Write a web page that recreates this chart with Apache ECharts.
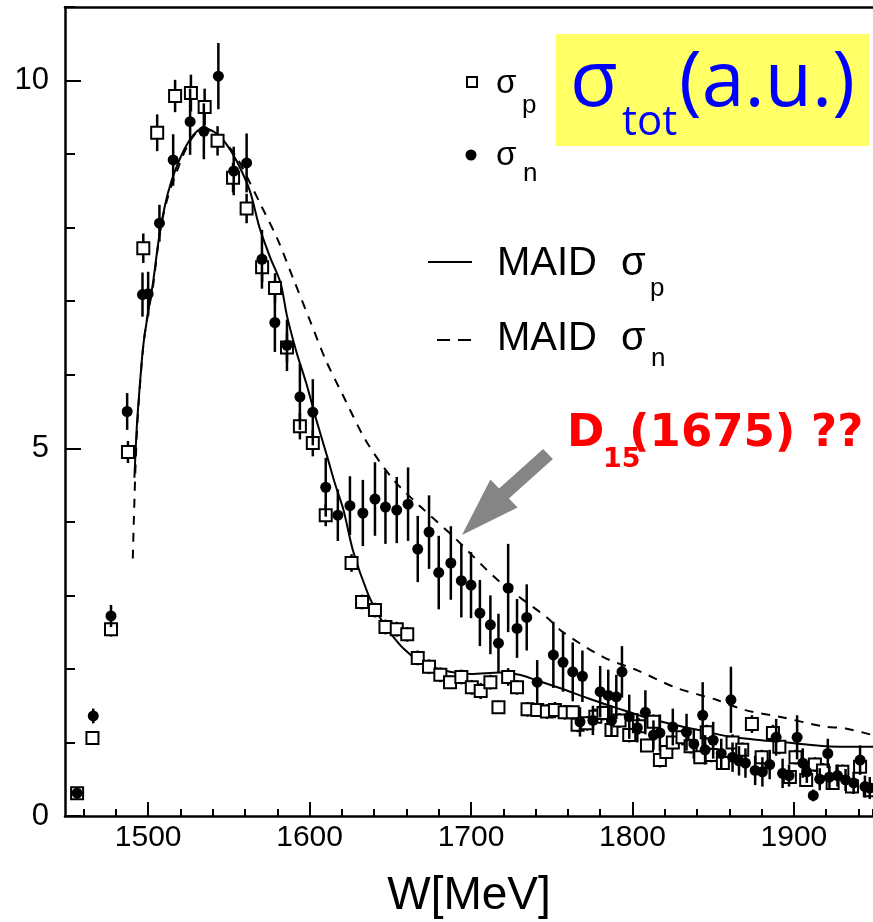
<!DOCTYPE html>
<html>
<head>
<meta charset="utf-8">
<script src="https://cdn.jsdelivr.net/npm/echarts@6/dist/echarts.min.js"></script>
<style>
html,body{margin:0;padding:0;background:#fff;}
#c{width:873px;height:922px;}
</style>
</head>
<body>
<div id="c"></div>
<script>
// ---- data ----
// sigma_p (open squares)
const pX = [1456,1465.5,1477,1487.5,1497,1505.6,1516.7,1526.5,1535,1543,1552.6,1561,1570.6,1578.6,1586,1594,1602,1610,1626,1632.5,1640.5,1647,1654,1660.5,1667,1674,1681,1687,1694,1700.5,1706,1712,1717,1723,1728.5,1735,1741,1747,1752,1758,1763,1766,1772,1777,1782,1787,1792,1798,1804,1809,1813,1817,1821,1825,1831,1836,1842,1846,1849,1856,1862,1868,1874,1880,1887,1891,1897.5,1901,1907.6,1913,1918,1924,1930,1936,1941,1947];
const pY = [0.31,1.06,2.54,4.95,7.72,9.29,9.79,9.83,9.64,9.18,8.68,8.26,7.46,7.18,6.37,5.30,5.07,4.09,3.44,2.91,2.80,2.57,2.54,2.47,2.15,2.03,1.92,1.82,1.89,1.75,1.70,1.82,1.48,1.89,1.75,1.45,1.44,1.42,1.44,1.41,1.41,1.24,1.26,1.35,1.40,1.17,1.30,1.10,1.22,0.96,1.28,0.76,0.87,1.00,1.07,0.95,0.80,1.14,0.83,0.72,1.00,0.90,1.25,0.80,1.13,0.94,0.53,0.80,0.49,0.70,0.62,0.45,0.60,0.40,0.67,0.35];
const pErr = [0.04,0.06,0.10,0.15,0.20,0.25,0.22,0.25,0.25,0.20,0.20,0.20,0.20,0.20,0.20,0.18,0.18,0.15,0.12,0.10,0.10,0.10,0.10,0.10,0.10,0.10,0.10,0.09,0.10,0.10,0.11,0.10,0.09,0.12,0.10,0.10,0.09,0.10,0.11,0.10,0.09,0.10,0.10,0.11,0.10,0.09,0.10,0.10,0.11,0.09,0.10,0.10,0.09,0.10,0.11,0.10,0.09,0.10,0.10,0.09,0.11,0.10,0.12,0.10,0.11,0.10,0.09,0.10,0.09,0.10,0.10,0.09,0.10,0.09,0.10,0.09];
// sigma_n (filled points)
const nX = [1456,1466,1477,1487,1496.5,1500,1507,1515.5,1526,1534.5,1543.5,1553,1561,1570.5,1578.5,1586,1594,1602,1610,1617.5,1625,1633,1640.5,1647,1654,1661,1667,1674,1680,1687.5,1694,1700,1705.5,1712,1717,1723,1728.5,1734.5,1741,1751,1757,1763,1767.5,1769,1775.5,1780,1785,1787,1790,1793.5,1798,1803,1808,1813,1817,1825,1833.5,1838,1843.5,1845,1850,1855,1861,1862,1866,1870,1876,1880.5,1885,1889,1893,1897,1902,1905.5,1908,1912,1916,1921,1922,1927,1932,1937,1941,1944,1947];
const nY = [0.31,1.36,2.72,5.50,7.09,7.10,8.06,8.92,9.44,9.31,10.06,8.77,8.88,7.57,6.71,6.40,5.70,5.49,4.47,4.09,4.22,4.12,4.31,4.20,4.16,4.24,3.63,3.86,3.31,3.44,3.20,3.14,2.76,2.60,2.35,3.10,2.55,2.70,1.82,2.19,2.09,1.96,1.28,1.90,1.30,1.69,1.64,1.30,1.62,1.96,1.35,1.20,1.41,1.10,1.13,1.21,1.14,0.98,1.37,0.90,1.03,0.85,1.58,0.80,0.75,0.72,0.62,0.60,0.70,1.07,0.58,0.55,1.07,0.72,0.60,0.28,0.50,0.85,0.53,0.55,0.49,0.45,0.76,0.40,0.38];
const nErr = [0.05,0.10,0.15,0.25,0.30,0.30,0.25,0.35,0.45,0.38,0.45,0.33,0.40,0.40,0.40,0.35,0.45,0.45,0.40,0.35,0.40,0.45,0.50,0.50,0.45,0.50,0.45,0.50,0.50,0.50,0.50,0.45,0.45,0.40,0.40,0.60,0.40,0.45,0.30,0.45,0.40,0.40,0.20,0.35,0.20,0.35,0.35,0.20,0.30,0.35,0.30,0.20,0.30,0.20,0.25,0.25,0.25,0.20,0.45,0.20,0.25,0.20,0.45,0.20,0.20,0.20,0.20,0.20,0.20,0.25,0.20,0.15,0.30,0.20,0.15,0.08,0.15,0.20,0.15,0.15,0.15,0.15,0.20,0.15,0.15];
// MAID model curves
const maidPX = [1491.5,1493,1495,1497,1500,1503,1507,1512,1518,1526,1534,1541,1548,1555,1563,1569,1575.5,1582,1586,1592,1598,1604,1611,1616,1621,1627,1636,1643,1650,1658,1667,1677,1687,1700,1718,1730,1740,1755,1775,1790,1810,1830,1845,1860,1880,1900,1920,1949];
const maidPY = [4.6,5.3,5.9,6.4,6.85,7.25,7.9,8.45,8.85,9.2,9.35,9.3,9.15,8.9,8.5,8.0,7.6,7.25,6.8,6.3,5.88,5.4,4.88,4.5,4.16,3.6,3.03,2.72,2.49,2.28,2.12,2.02,1.96,1.93,1.95,1.92,1.85,1.74,1.58,1.47,1.33,1.22,1.15,1.08,1.03,0.99,0.95,0.94];
const maidNX = [1490.5,1493,1497,1500,1503,1507.4,1512,1518,1526,1534,1544.6,1555,1561,1570,1580,1590,1600,1610,1620,1635,1652,1670,1689,1718,1747,1757,1782,1803,1827.5,1852,1870,1891,1918,1932,1949];
const maidNY = [3.5,5.2,6.4,6.85,7.2,7.95,8.4,8.78,9.18,9.35,9.23,8.95,8.7,8.3,7.85,7.3,6.75,6.2,5.75,5.1,4.57,4.18,3.8,3.18,2.7,2.5,2.16,1.98,1.74,1.58,1.44,1.35,1.22,1.19,1.1];
// axis ticks
const yMajorTicks = [0, 5, 10];
const xMajorTicks = [1500, 1600, 1700, 1800, 1900];

// ---- layout ----
const X_MIN = 1448.5, X_MAX = 1949, Y_MAX = 11;
const GL = 65, GT = 7, GB = 106, W = 873;
const k = (W - GL) / (X_MAX - X_MIN);
const FONT = '"Liberation Sans", Arial, sans-serif';

function errRender(params, api) {
  const a = api.coord([api.value(0), api.value(1)]);
  const b = api.coord([api.value(0), api.value(2)]);
  return {type: 'line', shape: {x1: a[0], y1: a[1], x2: b[0], y2: b[1]},
          style: {stroke: '#000', lineWidth: 2.5}};
}

const chart = echarts.init(document.getElementById('c'), null, {renderer: 'canvas'});

function txt(x, y, s, size, opts) {
  opts = opts || {};
  return {type: 'text', x: x, y: y, z: opts.z || 110,
    style: {text: s, fontSize: size, fontFamily: opts.family || FONT, fontWeight: opts.weight || 'normal',
            fill: opts.color || '#000', align: opts.align || 'left', verticalAlign: 'middle'}};
}

const option = {
  animation: false,
  backgroundColor: '#fff',
  grid: [
    {left: GL, right: 0, top: GT, bottom: GB, outerBoundsMode: 'none'},
    {left: GL + (xMajorTicks[0] - X_MIN) * k, right: 0, top: GT, bottom: GB, outerBoundsMode: 'none'},
    {left: GL + (1460 - X_MIN) * k, right: 0, top: GT, bottom: GB, outerBoundsMode: 'none'}
  ],
  xAxis: [
    {gridIndex: 0, type: 'value', min: X_MIN, max: X_MAX, position: 'bottom',
     axisLine: {show: true, onZero: false, lineStyle: {color: '#000', width: 2.5}},
     axisTick: {show: false}, axisLabel: {show: false}, splitLine: {show: false},
     name: 'W[MeV]', nameLocation: 'middle', nameGap: 57,
     nameTextStyle: {fontSize: 46, color: '#000', fontFamily: FONT}},
    {gridIndex: 0, type: 'value', min: X_MIN, max: X_MAX, position: 'top',
     axisLine: {show: true, onZero: false, lineStyle: {color: '#000', width: 2.5}},
     axisTick: {show: false}, axisLabel: {show: false}, splitLine: {show: false}},
    {gridIndex: 1, type: 'value', min: xMajorTicks[0], max: X_MAX, interval: 100, position: 'bottom',
     axisLine: {show: false, onZero: false},
     axisTick: {show: true, inside: true, length: 14, lineStyle: {color: '#000', width: 2}},
     axisLabel: {show: true, margin: 7, fontSize: 30, color: '#000', fontFamily: FONT,
                 showMaxLabel: false, showMinLabel: true,
                 formatter: v => (xMajorTicks.indexOf(v) >= 0 ? String(v) : '')},
     splitLine: {show: false}},
    {gridIndex: 2, type: 'value', min: 1460, max: X_MAX, interval: 20, position: 'bottom',
     axisLine: {show: false, onZero: false},
     axisTick: {show: true, inside: true, length: 7, lineStyle: {color: '#000', width: 2}},
     axisLabel: {show: false}, splitLine: {show: false}}
  ],
  yAxis: [
    {gridIndex: 0, type: 'value', min: 0, max: Y_MAX, interval: 5, position: 'left',
     axisLine: {show: true, onZero: false, lineStyle: {color: '#000', width: 2.5}},
     axisTick: {show: true, inside: true, length: 16, lineStyle: {color: '#000', width: 2}},
     axisLabel: {show: true, margin: 16, fontSize: 31, color: '#000', fontFamily: FONT,
                 showMaxLabel: false,
                 formatter: v => (yMajorTicks.indexOf(v) >= 0 ? String(v) : '')},
     splitLine: {show: false}},
    {gridIndex: 0, type: 'value', min: 0, max: Y_MAX, interval: 1, position: 'left',
     axisLine: {show: false, onZero: false},
     axisTick: {show: true, inside: true, length: 10, lineStyle: {color: '#000', width: 2}},
     axisLabel: {show: false}, splitLine: {show: false}},
    {gridIndex: 1, type: 'value', min: 0, max: Y_MAX, show: false},
    {gridIndex: 2, type: 'value', min: 0, max: Y_MAX, show: false}
  ],
  series: [
    {name: 'MAID σp', type: 'line', xAxisIndex: 0, yAxisIndex: 0, showSymbol: false, smooth: 0.3,
     data: maidPX.map((x, i) => [x, maidPY[i]]),
     lineStyle: {color: '#000', width: 2}, z: 2},
    {name: 'MAID σn', type: 'line', xAxisIndex: 0, yAxisIndex: 0, showSymbol: false, smooth: 0.3,
     data: maidNX.map((x, i) => [x, maidNY[i]]),
     lineStyle: {color: '#000', width: 2, type: [9, 8]}, z: 2},
    {type: 'custom', xAxisIndex: 0, yAxisIndex: 0, renderItem: errRender,
     encode: {x: 0, y: [1, 2]}, z: 3,
     data: pX.map((x, i) => [x, pY[i] - pErr[i], pY[i] + pErr[i]])},
    {name: 'σp', type: 'scatter', xAxisIndex: 0, yAxisIndex: 0, symbol: 'rect', symbolSize: 12,
     data: pX.map((x, i) => [x, pY[i]]),
     itemStyle: {color: '#fff', borderColor: '#000', borderWidth: 2, opacity: 1}, z: 4},
    {type: 'custom', xAxisIndex: 0, yAxisIndex: 0, renderItem: errRender,
     encode: {x: 0, y: [1, 2]}, z: 5,
     data: nX.map((x, i) => [x, nY[i] - nErr[i], nY[i] + nErr[i]])},
    {name: 'σn', type: 'scatter', xAxisIndex: 0, yAxisIndex: 0, symbol: 'circle', symbolSize: 11,
     data: nX.map((x, i) => [x, nY[i]]),
     itemStyle: {color: '#000', opacity: 1}, z: 6}
  ],
  graphic: [
    // legend
    {type: 'rect', z: 110, shape: {x: 467, y: 77, width: 10, height: 10}, style: {fill: '#fff', stroke: '#000', lineWidth: 2}},
    txt(496, 84, 'σ', 33), txt(522, 106, 'p', 26),
    {type: 'circle', z: 110, shape: {cx: 471, cy: 155, r: 5.5}, style: {fill: '#000'}},
    txt(496, 156, 'σ', 33), txt(523, 174, 'n', 26),
    {type: 'line', z: 110, shape: {x1: 428, y1: 262, x2: 472, y2: 262}, style: {stroke: '#000', lineWidth: 2}},
    txt(497, 264, 'MAID', 40), txt(621, 264, 'σ', 40), txt(650, 289, 'p', 26),
    {type: 'line', z: 110, shape: {x1: 437, y1: 340, x2: 472, y2: 340}, style: {stroke: '#000', lineWidth: 2, lineDash: [13, 8]}},
    txt(497, 339, 'MAID', 40), txt(621, 339, 'σ', 40), txt(651, 359, 'n', 26),
    // yellow label box
    {type: 'rect', z: 105, shape: {x: 556, y: 34, width: 313, height: 112}, style: {fill: '#FFFF66'}},
    txt(570, 84, 'σ', 78, {family: '"Open Sans", sans-serif', color: '#0000FF'}),
    txt(622, 123, 'tot', 42, {family: '"Open Sans", sans-serif', color: '#0000FF'}),
    txt(679, 84, '(a.u.)', 77, {family: '"Open Sans", sans-serif', color: '#0000FF'}),
    // D15 annotation
    txt(567, 434, 'D', 45, {family: '"DejaVu Sans", sans-serif', weight: 'bold', color: '#FF0000'}),
    txt(603, 460, '15', 27, {family: '"DejaVu Sans", sans-serif', weight: 'bold', color: '#FF0000'}),
    txt(629, 434, '(1675) ??', 45, {family: '"DejaVu Sans", sans-serif', weight: 'bold', color: '#FF0000'}),
    {type: 'polygon', z: 108, shape: {points: [[552.9, 459.0], [508.9, 498.5], [517.6, 507.5], [462, 535], [490.4, 479.5], [499.1, 488.5], [543.1, 449.0]]},
     style: {fill: '#858585'}}
  ]
};
chart.setOption(option);
</script>
</body>
</html>
